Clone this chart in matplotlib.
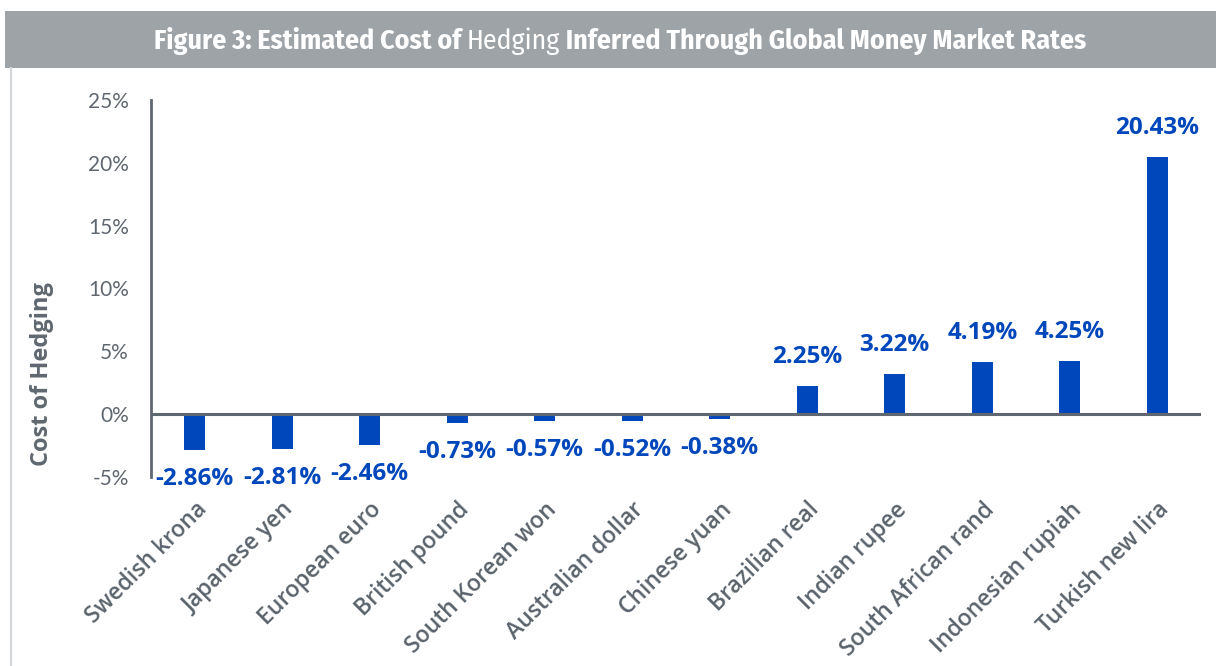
import matplotlib.pyplot as plt
from matplotlib.patches import Rectangle
from matplotlib.lines import Line2D
from matplotlib import font_manager

currencies = ['Swedish krona', 'Japanese yen', 'European euro', 'British pound',
              'South Korean won', 'Australian dollar', 'Chinese yuan', 'Brazilian real',
              'Indian rupee', 'South African rand', 'Indonesian rupiah', 'Turkish new lira']
cost = [-2.86, -2.81, -2.46, -0.73, -0.57, -0.52, -0.38, 2.25, 3.22, 4.19, 4.25, 20.43]
yticks = [-5, 0, 5, 10, 15, 20, 25]

blue = '#0047bb'
gray = '#5f6770'
plt.rcParams['font.family'] = ['Open Sans', 'DejaVu Sans']

# pick a condensed font for the title
have = set(f.name for f in font_manager.fontManager.ttflist)
title_font = 'DejaVu Sans'
for name in ['Fira Sans Condensed', 'Asap Condensed', 'Encode Sans Condensed',
             'IBM Plex Sans Condensed', 'PT Sans Narrow', 'Roboto Condensed', 'Archivo Narrow']:
    if name in have:
        title_font = name
        break
tick_font = 'Lato' if 'Lato' in have else 'Open Sans'

fig = plt.figure(figsize=(12.16, 6.66), dpi=100)

# header band and left border
fig.patches.append(Rectangle((5 / 1216, 1 - 68 / 666), 1, 57 / 666, transform=fig.transFigure,
                             facecolor='#9ea3a8', edgecolor='none', zorder=0))
fig.lines.append(Line2D([11 / 1216, 11 / 1216], [0, 1 - 68 / 666], transform=fig.transFigure,
                        color='#d3d6d9', lw=1.5))

ax = fig.add_axes([151 / 1216, 1 - 477 / 666, 1050 / 1216, 377 / 666])
x = range(len(currencies))
ax.bar(x, cost, width=0.24, color=blue, zorder=2)
ax.set_xlim(-0.5, len(currencies) - 0.5)
ax.set_ylim(-5, 25)
ax.set_yticks(yticks)
ax.set_yticklabels([f'{v}%' for v in yticks], fontsize=15, color=gray, family=tick_font)
ax.tick_params(axis='y', length=0, pad=16)
ax.set_xticks(list(x))
ax.set_xticklabels(currencies, rotation=45, ha='right', va='top', rotation_mode='anchor',
                   fontsize=16.5, fontweight='semibold', color='#5a636c')
ax.tick_params(axis='x', length=0, pad=15)
for s in ['top', 'right', 'bottom']:
    ax.spines[s].set_visible(False)
ax.spines['left'].set_color(gray)
ax.spines['left'].set_linewidth(2)
ax.axhline(0, color=gray, lw=2.2, zorder=3)

for i, v in enumerate(cost):
    off = 29 if v > 0 else -29
    ax.annotate(f'{v:.2f}%', (i, v), xytext=(0, off * 0.72), textcoords='offset points',
                ha='center', va='center', fontsize=17.5, fontweight='bold', color=blue)

fig.text(42 / 1216, 1 - 374 / 666, 'Cost of Hedging', rotation=90, ha='center', va='center',
         fontsize=17, fontweight='bold', color=gray)

# title with mixed weights, centred as a whole and scaled to the reference width
parts = [('Figure 3: Estimated Cost of ', 'bold'), ('Hedging', 'normal'),
         (' Inferred Through Global Money Market Rates', 'bold')]
texts = [fig.text(0, 1 - 41 / 666, p, fontsize=17, fontweight=w, color='white',
                  family=[title_font, 'DejaVu Sans'], va='center', ha='left') for p, w in parts]
fig.canvas.draw()
r = fig.canvas.get_renderer()
total = sum(t.get_window_extent(r).width for t in texts)
size = min(17 * 933 / total, 21)
for t in texts:
    t.set_fontsize(size)
fig.canvas.draw()
widths = [t.get_window_extent(r).width for t in texts]
xpos = 620 - sum(widths) / 2
for t, w in zip(texts, widths):
    t.set_x(xpos / 1216)
    xpos += w

fig.savefig('out.png', dpi=100)
